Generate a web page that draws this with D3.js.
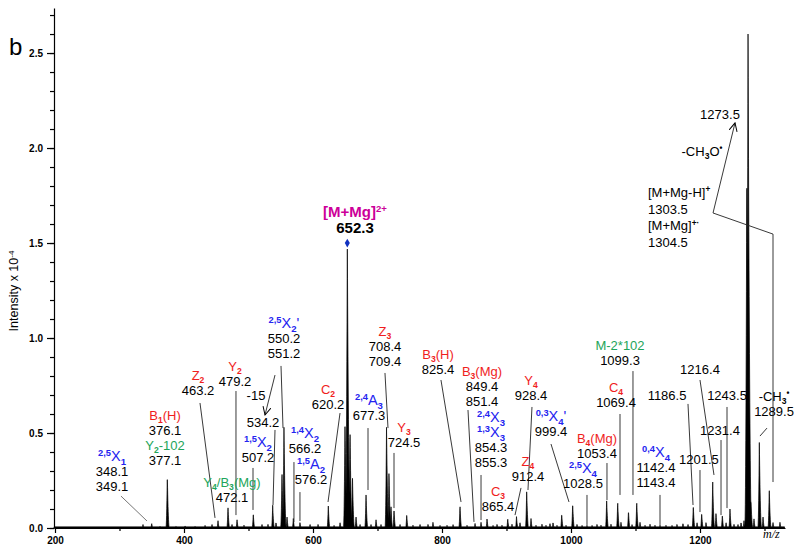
<!DOCTYPE html>
<html><head><meta charset="utf-8">
<script src="https://cdn.jsdelivr.net/npm/d3@7"></script>
<style>
body{margin:0;background:#fff}
svg{display:block;font-family:Arial,"Liberation Sans",sans-serif}
</style>
</head><body>
<svg id="c" width="800" height="554"></svg>
<script>
// ---------------- data ----------------
const peakMz = [336.4,349.9,362.8,374.1,387.6,401.6,417.1,432.6,443.4,452.7,468.2,474.4,482.2,493.0,507.4,520.9,530.2,537.5,542.6,551.9,555.0,559.7,569.5,579.8,595.4,607.8,623.7,632.6,641.9,649.6,653.2,657.4,661.2,666.7,672.9,682.2,689.9,697.7,705.4,714.0,717.8,720.9,725.6,734.9,745.3,755.0,765.9,778.3,786.0,796.9,807.8,817.1,827.9,838.8,851.2,860.5,869.8,879.1,885.3,893.0,901.9,908.5,915.5,920.9,931.3,938.0,945.7,955.0,961.2,967.4,972.1,978.3,985.6,992.3,1002.6,1009.3,1017.1,1024.8,1032.6,1040.3,1046.5,1055.3,1062.0,1072.4,1077.5,1089.1,1094.6,1101.9,1107.0,1114.8,1122.5,1130.2,1138.0,1147.3,1156.6,1164.3,1173.6,1181.4,1189.6,1195.4,1202.6,1209.3,1219.7,1224.8,1234.6,1240.4,1246.5,1252.7,1258.9,1263.6,1268.2,1272.6,1274.5,1279.1,1283.7,1292.0,1297.7,1307.4,1313.2,1324.0];
const peakInt = [0.02,0.025,0.01,0.28,0.01,0.012,0.01,0.015,0.02,0.04,0.11,0.02,0.045,0.015,0.075,0.02,0.02,0.12,0.03,0.3,0.53,0.06,0.05,0.03,0.02,0.02,0.12,0.015,0.03,0.58,1.5,0.52,0.27,0.06,0.02,0.18,0.02,0.045,0.02,0.53,0.3,0.12,0.1,0.02,0.07,0.015,0.02,0.02,0.03,0.015,0.015,0.02,0.12,0.015,0.025,0.03,0.05,0.015,0.02,0.015,0.05,0.02,0.06,0.03,0.2,0.05,0.015,0.02,0.015,0.025,0.03,0.015,0.075,0.015,0.13,0.02,0.015,0.015,0.015,0.02,0.015,0.15,0.02,0.14,0.03,0.09,0.02,0.14,0.03,0.015,0.02,0.015,0.015,0.015,0.015,0.02,0.025,0.02,0.12,0.03,0.08,0.03,0.25,0.08,0.07,0.03,0.1,0.02,0.02,0.03,0.04,1.9,2.6,0.15,0.05,0.45,0.06,0.21,0.03,0.03];

const xTickLabels = [200,400,600,800,1000,1200];
const xMinorTicks = [300,500,700,900,1100,1300];
const yTickLabels = [0.0,0.5,1.0,1.5,2.0,2.5];

const precursorMz = 653.2, precursorInt = 1.5;

// annotation texts: [markup, colour key]
const labelTexts = [
  [["^{2,5}X_{1}","B"],["348.1"],["349.1"]],
  [["B_{1}(H)","R"],["376.1"],["Y_{2}-102","G"],["377.1"]],
  [["Z_{2}","R"],["463.2"]],
  [["Y_{2}","R"],["479.2"]],
  [["-15"]],
  [["534.2"]],
  [["^{2,5}X_{2}'","B"],["550.2"],["551.2"]],
  [["^{1,5}X_{2}","B"],["507.2"]],
  [["Y_{4}/B_{3}(Mg)","G"],["472.1"]],
  [["^{1,4}X_{2}","B"],["566.2"]],
  [["^{1,5}A_{2}","B"],["576.2"]],
  [["C_{2}","R"],["620.2"]],
  [["^{2,4}A_{3}","B"],["677.3"]],
  [["Z_{3}","R"],["708.4"],["709.4"]],
  [["Y_{3}","R"],["724.5"]],
  [["B_{3}(H)","R"],["825.4"]],
  [["B_{3}(Mg)","R"],["849.4"],["851.4"]],
  [["^{2,4}X_{3}","B"],["^{1,3}X_{3}","B"],["854.3"],["855.3"]],
  [["C_{3}","R"],["865.4"]],
  [["Z_{4}","R"],["912.4"]],
  [["Y_{4}","R"],["928.4"]],
  [["^{0,3}X_{4}'","B"],["999.4"]],
  [["^{2,5}X_{4}","B"],["1028.5"]],
  [["B_{4}(Mg)","R"],["1053.4"]],
  [["C_{4}","R"],["1069.4"]],
  [["M-2*102","G"],["1099.3"]],
  [["^{0,4}X_{4}","B"],["1142.4"],["1143.4"]],
  [["1186.5"]],
  [["1216.4"]],
  [["1243.5"]],
  [["1231.4"]],
  [["1201.5"]],
  [["-CH_{3}^{•}"],["1289.5"]],
  [["1273.5"]],
  [["-CH_{3}O^{•}"]],
  [["[M+Mg-H]^{+}"],["1303.5"],["[M+Mg]^{+·}"],["1304.5"]]
];
// label anchor in data units (m/z of text centre, intensity of first baseline)
const labelMz  = [288.4,370.5,421.7,479.1,511.6,522.5,555.0,514.7,474.4,587.6,596.9,623.3,686.8,711.6,741.1,793.8,862.0,876.0,886.8,933.3,938.0,969.0,1018.6,1040.3,1069.8,1076.0,1131.8,1148.9,1200.0,1241.9,1231.0,1198.4,1314.8,1231.0,1203.1,1119.4];
const labelInt = [0.353,0.568,0.779,0.826,0.674,0.532,1.053,0.426,0.216,0.474,0.311,0.705,0.647,1.011,0.505,0.889,0.800,0.558,0.168,0.326,0.753,0.563,0.289,0.447,0.716,0.937,0.374,0.674,0.811,0.674,0.489,0.337,0.668,2.153,1.958,1.742];

// leader lines: [mz1, int1, mz2, int2]
const leaders = [
  [302.3,0.168,342.6,0.037],[424.8,0.658,448.1,0.053],[480.6,0.721,480.6,0.068],
  [541.1,0.516,538.0,0.121],[550.4,0.853,553.5,0.526],[507.0,0.316,507.0,0.095],
  [570.5,0.347,570.5,0.032],[579.8,0.189,579.8,0.037],[641.9,0.605,623.3,0.137],
  [685.3,0.526,685.3,0.200],[711.6,0.816,716.3,0.526],[725.6,0.395,725.6,0.105],
  [798.4,0.779,829.5,0.137],[840.3,0.621,849.6,0.032],[860.5,0.279,860.5,0.042],
  [922.5,0.211,913.2,0.068],[939.5,0.637,933.3,0.200],[969.0,0.442,996.9,0.137],
  [1024.8,0.174,1024.8,0.016],[1055.8,0.342,1055.8,0.147],[1076.0,0.600,1076.0,0.174],
  [1096.1,0.826,1096.1,0.174],[1138.0,0.174,1138.0,0.016],[1181.4,0.653,1189.2,0.121],
  [1200.0,0.779,1221.7,0.279],[1241.9,0.637,1241.9,0.105],[1232.6,0.463,1232.6,0.068],
  [1200.0,0.305,1200.0,0.084],[1293.0,0.484,1303.9,0.526],
  [1220.2,1.658,1313.2,1.547],[1313.2,1.547,1313.2,0.242]
];
// arrows: [mz1, int1, mz2, int2]
const arrows = [[541.1,0.805,525.6,0.595],[1220.2,1.658,1254.3,2.132]];

// ---------------- drawing ----------------
const colours = {R:"#f01e1e", B:"#2424f0", G:"#1ea55a", K:"#000"};
const sizes = {R:13, B:14.5, G:13, K:13};
const svg = d3.select("#c");
const x = d3.scaleLinear().domain([198.45,1331.8]).range([54,785]);
const y = d3.scaleLinear().domain([0,2.737]).range([528,8]);

const defs = svg.append("defs");
defs.append("marker").attr("id","arr").attr("viewBox","0 0 10 10")
  .attr("refX",9).attr("refY",5).attr("markerWidth",9).attr("markerHeight",9)
  .attr("markerUnits","userSpaceOnUse").attr("orient","auto")
  .append("path").attr("d","M0,0.5 L9,5 L0,9.5").attr("fill","none").attr("stroke","#000").attr("stroke-width",1.1);

// spectrum profile built from peak list
const prof = [];
for (let m = 198.5; m <= 1331; m += 0.25) {
  let v = 0.006;
  for (let i = 0; i < peakMz.length; i++) {
    const h = peakInt[i], d = m - peakMz[i];
    const w = d < 0 ? 1.5 + 1.2*Math.sqrt(h) : 2.0 + 2.2*Math.sqrt(h);
    const a = Math.abs(d);
    if (a < w) v = Math.max(v, h*Math.pow(1 - a/w, 2));
  }
  prof.push([m, v]);
}
svg.append("path").datum(prof)
  .attr("d", d3.area().x(d=>x(d[0])).y0(y(0)).y1(d=>y(d[1])))
  .attr("fill","#000").attr("stroke","#000").attr("stroke-width",0.7);

// axes
const gy = svg.append("g").attr("transform","translate(54,0)");
gy.call(d3.axisLeft(y).tickValues(d3.range(0,2.71,0.1)).tickSize(4).tickFormat("").tickSizeOuter(0));
gy.append("g").call(d3.axisLeft(y).tickValues(yTickLabels).tickSize(7).tickPadding(4).tickFormat(d3.format(".1f")))
  .call(g=>g.select(".domain").remove());
gy.selectAll("text").attr("font-family","Arial,'Liberation Sans',sans-serif").attr("font-size",10).attr("font-weight","bold").attr("fill","#000");
gy.selectAll("line,path").attr("stroke","#000").attr("stroke-width",1.2);

const gx = svg.append("g").attr("transform","translate(0,528)");
gx.call(d3.axisBottom(x).tickValues(xTickLabels).tickSize(5).tickPadding(4).tickSizeOuter(0).tickFormat(d3.format("d")));
gx.append("g").call(d3.axisBottom(x).tickValues(xMinorTicks).tickSize(3).tickFormat(""))
  .call(g=>g.select(".domain").remove());
gx.selectAll("text").attr("font-family","Arial,'Liberation Sans',sans-serif").attr("font-size",10).attr("font-weight","bold").attr("fill","#000");
gx.selectAll("line,path").attr("stroke","#000").attr("stroke-width",1.2);

// rich text helper
function rich(sel, str, size, boldScripts) {
  const parts = str.split(/(\^\{[^}]*\}|_\{[^}]*\})/).filter(s=>s.length);
  let shift = 0;
  parts.forEach(p => {
    let t = p, target = 0, fs = size, scr = false;
    if (p.startsWith("^{")) { t = p.slice(2,-1); target = -0.36*size; fs = size*0.64; scr = true; }
    else if (p.startsWith("_{")) { t = p.slice(2,-1); target = 0.25*size; fs = size*0.66; scr = true; }
    const ts = sel.append("tspan").text(t).attr("dy", (target - shift).toFixed(2)).attr("font-size", fs.toFixed(1));
    if (scr && boldScripts) ts.attr("font-weight","bold");
    shift = target;
  });
}

// leader lines
svg.append("g").selectAll("line").data(leaders).join("line")
  .attr("x1",d=>x(d[0])).attr("y1",d=>y(d[1])).attr("x2",d=>x(d[2])).attr("y2",d=>y(d[3]))
  .attr("stroke",(d,i)=> i===0 ? "#666" : "#222").attr("stroke-width",0.9);
svg.append("g").selectAll("line").data(arrows).join("line")
  .attr("x1",d=>x(d[0])).attr("y1",d=>y(d[1])).attr("x2",d=>x(d[2])).attr("y2",d=>y(d[3]))
  .attr("stroke","#222").attr("stroke-width",0.9).attr("marker-end","url(#arr)");

// labels
const gl = svg.append("g");
labelTexts.forEach((lines,i) => {
  const last = i === labelTexts.length - 1;
  const gap = last ? 16.7 : 15;
  lines.forEach((ln,j) => {
    const key = ln[1] || "K";
    const t = gl.append("text")
      .attr("x", x(labelMz[i])).attr("y", y(labelInt[i]) + j*gap)
      .attr("text-anchor", last ? "start" : "middle")
      .attr("fill", colours[key]).attr("font-size", sizes[key]);
    rich(t, ln[0], sizes[key], true);
  });
});

// precursor label
const px = x(precursorMz), py = y(precursorInt);
const tp = svg.append("text").attr("x", x(665.1)).attr("y", y(1.637)).attr("text-anchor","middle")
  .attr("fill","#cc0099").attr("font-weight","bold").attr("font-size",15);
rich(tp, "[M+Mg]^{2+}", 15, true);
svg.append("text").attr("x", x(665.1)).attr("y", y(1.637)+16).attr("text-anchor","middle")
  .attr("font-weight","bold").attr("font-size",15).text("652.3");
svg.append("path").attr("d", d3.symbol(d3.symbolDiamond, 22)()).attr("transform",`translate(${px},${py})`)
  .attr("fill","#1030c0");

// axis titles
const yt = svg.append("text").attr("transform","translate(18,291) rotate(-90)").attr("text-anchor","middle")
  .attr("font-size",12.5);
rich(yt, "Intensity x 10^{-4}", 12.5, false);
svg.append("text").attr("x",763).attr("y",538).attr("font-family","'Liberation Serif','Times New Roman',serif")
  .attr("font-style","italic").attr("font-size",12).text("m/z");
svg.append("text").attr("x",9).attr("y",55).attr("font-size",24).text("b");
</script>
</body></html>
